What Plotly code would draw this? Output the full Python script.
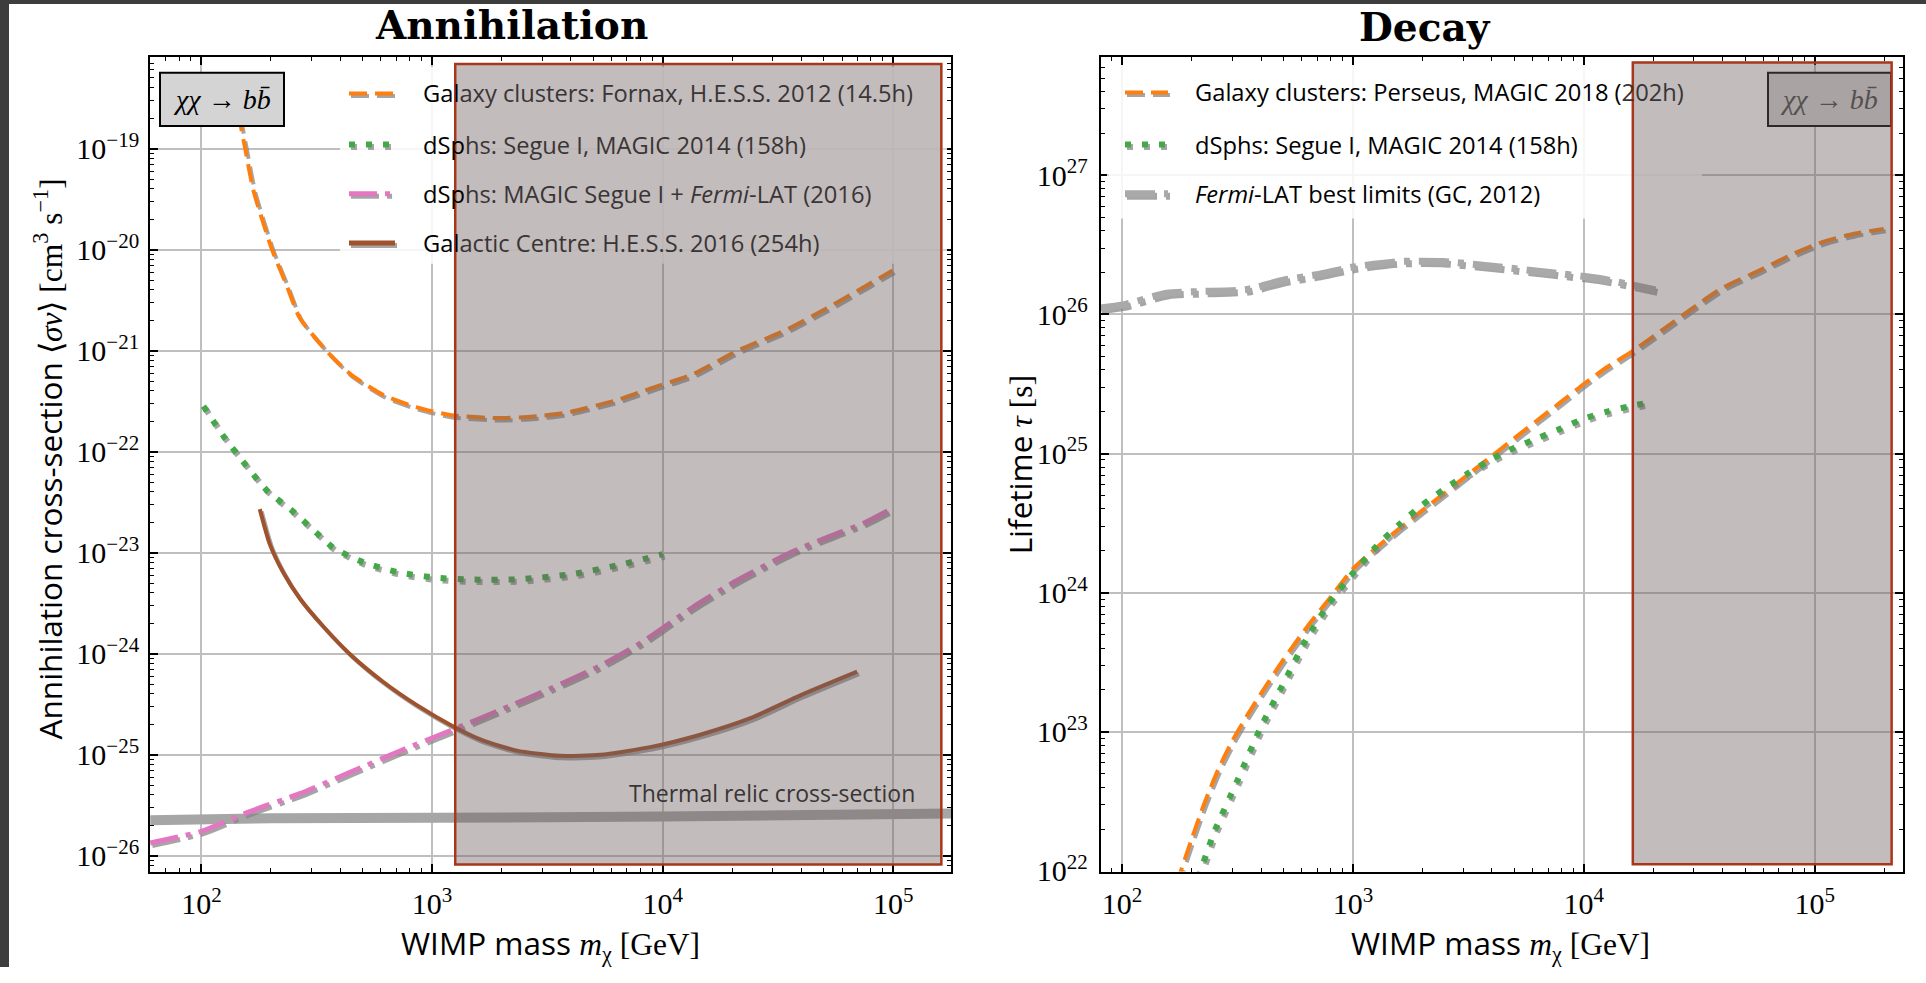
import plotly.graph_objects as go

W, H = 1926, 983

# ---------------- Annihilation: WIMP mass [GeV] vs <sigma v> [cm^3 s^-1] ----------------
fornax_mass = [144.5, 154.5, 168, 202, 234, 267, 349, 441, 615, 859, 1197, 1910, 2754,
               3837, 6324, 8831, 13610, 20990, 33420, 51520, 76910, 99300]
fornax_sv = [2.24e-19, 1.02e-19, 3.87e-20, 1.01e-20, 4.44e-21, 2.10e-21, 9.93e-22, 5.89e-22,
             3.63e-22, 2.75e-22, 2.31e-22, 2.15e-22, 2.23e-22, 2.44e-22, 3.24e-22, 4.21e-22,
             5.89e-22, 9.93e-22, 1.56e-21, 2.63e-21, 4.44e-21, 6.21e-21]

segue_ann_mass = [102, 124.5, 154.5, 192, 250, 327, 373, 504, 714, 1014, 1462, 2410, 4102,
                  6761, 8260, 10000]
segue_ann_sv = [2.83e-22, 1.43e-22, 7.53e-23, 4.15e-23, 2.55e-23, 1.46e-23, 1.12e-23, 8.02e-24,
                6.40e-24, 5.69e-24, 5.43e-24, 5.47e-24, 6.17e-24, 7.73e-24, 8.65e-24, 9.7e-24]

combined_mass = [60, 100, 162, 267, 441, 726, 1197, 1972, 3251, 5358, 8260, 13610, 20990,
                 35730, 53330, 74300, 99300]
combined_sv = [1.34e-26, 1.75e-26, 2.74e-26, 4.12e-26, 6.71e-26, 1.09e-25, 1.73e-25, 2.77e-25,
               4.51e-25, 7.60e-25, 1.33e-24, 2.92e-24, 5.31e-24, 1.00e-23, 1.46e-23, 1.96e-23,
               2.75e-23]

gc_mass = [179, 198, 226, 267, 337, 441, 615, 859, 1236, 1671, 2328, 3589, 5358, 8831, 14550,
           23990, 39540, 69660]
gc_sv = [2.70e-23, 1.21e-23, 6.40e-24, 3.52e-24, 1.87e-24, 9.89e-25, 5.25e-25, 3.10e-25,
         1.91e-25, 1.38e-25, 1.10e-25, 9.77e-26, 1.00e-25, 1.19e-25, 1.58e-25, 2.30e-25,
         3.88e-25, 6.65e-25]

thermal_mass = [60, 200, 1000, 10000, 180000]
thermal_sv = [2.25e-26, 2.35e-26, 2.38e-26, 2.45e-26, 2.62e-26]

# ---------------- Decay: WIMP mass [GeV] vs lifetime [s] ----------------
perseus_mass = [171.8, 199.5, 229.1, 263, 302, 346.7, 398, 501, 631, 794, 1000, 1259, 1585,
                1995, 2512, 3162, 3981, 5012, 6310, 7943, 10000, 12590, 16410, 22390, 31620,
                39810, 58340, 79430, 107900, 147900, 199100]
perseus_tau = [7.94e21, 1.66e22, 3.16e22, 5.50e22, 8.71e22, 1.29e23, 1.86e23, 3.31e23, 5.62e23,
               9.12e23, 1.48e24, 2.09e24, 2.88e24, 3.89e24, 5.25e24, 7.08e24, 9.55e24, 1.29e25,
               1.74e25, 2.34e25, 3.16e25, 4.17e25, 5.50e25, 7.94e25, 1.20e26, 1.55e26, 2.09e26,
               2.69e26, 3.31e26, 3.80e26, 4.12e26]

segue_dec_mass = [213.8, 251.2, 316.2, 398.1, 501.2, 631, 794.3, 1000, 1259, 1585, 1995, 2512,
                  3162, 3981, 5012, 6310, 7943, 10000, 12590, 15850, 19680]
segue_dec_tau = [8.91e21, 1.91e22, 4.47e22, 1.07e23, 2.24e23, 4.68e23, 8.51e23, 1.38e24,
                 2.14e24, 3.09e24, 4.27e24, 5.62e24, 7.24e24, 9.12e24, 1.10e25, 1.29e25,
                 1.51e25, 1.78e25, 2.00e25, 2.19e25, 2.34e25]

fermi_mass = [80, 101, 156, 217, 347, 499, 697, 1002, 1596, 2460, 4325, 7129, 11720, 20420]
fermi_tau = [1.11e26, 1.17e26, 1.42e26, 1.46e26, 1.51e26, 1.76e26, 1.93e26, 2.19e26, 2.40e26,
             2.40e26, 2.19e26, 2.00e26, 1.81e26, 1.50e26]

# Mass windows highlighted by the shaded rectangles
ann_window_mass = [1260, 1.615e5]
ann_window_sv = [8.2e-27, 6.87e-19]
dec_window_mass = [16300, 2.153e5]
dec_window_tau = [1.114e22, 6.46e27]

# ---------------- styling ----------------
ORANGE = "#ff7f0e"
GREEN = "#43a847"
PINK = "#e377c2"
BROWN = "#a0522d"
THERMAL = "#a6a6a6"
FERMI = "#a9a9a9"
SHADOW = "rgba(135,135,135,0.75)"
DIM_TEXT = "#3a3535"
SANS = "Open Sans"
SERIF = "Liberation Serif"
LEGEND_SIZE = 23.7
AXIS_TITLE_SIZE = 31.5

DASH = "18px,8px"
DOT = "6px,11px"
DASHDOT = "28px,8px,5px,8px"
DASHDOT_WIDE = "30px,9px,6px,9px"

# pixel geometry of the two panels
LX0, LX1 = 150, 951
RX0, RX1 = 1100.5, 1902.7
YT, YB = 58, 886
# pixels per decade on each axis (for shadow offsets)
L_XDEC, L_YDEC = 230.5, 102.7
R_XDEC, R_YDEC = 231.0, 141.5


def px(x):
    return x / W


def py(y):
    return 1 - y / H


fig = go.Figure()


def add_curve(xs, ys, color, width, dash, xa, ya, xdec, ydec, shadow=True):
    if shadow:
        fx = 10 ** (2.0 / xdec)
        fy = 10 ** (-2.5 / ydec)
        fig.add_trace(go.Scatter(
            x=[v * fx for v in xs], y=[v * fy for v in ys], mode="lines",
            line=dict(color=SHADOW, width=width, dash=dash, shape="spline", smoothing=0.6),
            xaxis=xa, yaxis=ya, showlegend=False, hoverinfo="skip"))
    fig.add_trace(go.Scatter(
        x=xs, y=ys, mode="lines",
        line=dict(color=color, width=width, dash=dash, shape="spline", smoothing=0.6),
        xaxis=xa, yaxis=ya, showlegend=False))


# left panel curves
add_curve(thermal_mass, thermal_sv, THERMAL, 10, "solid", "x", "y", L_XDEC, L_YDEC, shadow=False)
add_curve(fornax_mass, fornax_sv, ORANGE, 4, DASH, "x", "y", L_XDEC, L_YDEC)
add_curve(segue_ann_mass, segue_ann_sv, GREEN, 6, DOT, "x", "y", L_XDEC, L_YDEC)
add_curve(combined_mass, combined_sv, PINK, 5, DASHDOT, "x", "y", L_XDEC, L_YDEC)
add_curve(gc_mass, gc_sv, BROWN, 4, "solid", "x", "y", L_XDEC, L_YDEC)

# right panel curves
add_curve(fermi_mass, fermi_tau, FERMI, 7, DASHDOT_WIDE, "x2", "y2", R_XDEC, R_YDEC)
add_curve(perseus_mass, perseus_tau, ORANGE, 4, DASH, "x2", "y2", R_XDEC, R_YDEC)
add_curve(segue_dec_mass, segue_dec_tau, GREEN, 6, DOT, "x2", "y2", R_XDEC, R_YDEC)

axis_common = dict(
    type="log", showline=True, linecolor="black", linewidth=2, mirror="allticks",
    ticks="inside", ticklen=8, tickwidth=1.5, tickcolor="black",
    showgrid=True, gridcolor="#bfbfbf", gridwidth=1.5, zeroline=False,
    dtick=1, exponentformat="power",
    tickfont=dict(family=SERIF, size=24, color="black"),
    minor=dict(ticks="inside", ticklen=4, tickwidth=1, tickcolor="black", dtick="D1",
               showgrid=False),
)

fig.update_layout(
    width=W, height=H, autosize=False,
    margin=dict(l=0, r=0, t=0, b=0),
    paper_bgcolor="white", plot_bgcolor="white",
    showlegend=False,
    xaxis=dict(axis_common, domain=[px(LX0), px(LX1)], range=[1.777, 5.25], anchor="y",
               ticklabelstandoff=6),
    yaxis=dict(axis_common, domain=[py(YB), py(YT)], range=[-26.156, -18.094], anchor="x",
               ticklabelstandoff=4),
    xaxis2=dict(axis_common, domain=[px(RX0), px(RX1)], range=[1.907, 5.381], anchor="y2",
                ticklabelstandoff=6),
    yaxis2=dict(axis_common, domain=[py(YB), py(YT)], range=[21.995, 27.85], anchor="x2",
                ticklabelstandoff=6),
)

shapes = []
# dark frame around the page edges
shapes.append(dict(type="rect", xref="paper", yref="paper", x0=0, x1=px(9), y0=0, y1=1,
                   fillcolor="#3d3d3d", line=dict(width=0), layer="below"))
shapes.append(dict(type="rect", xref="paper", yref="paper", x0=0, x1=1, y0=py(4), y1=1,
                   fillcolor="#3d3d3d", line=dict(width=0), layer="below"))

# legend backgrounds
shapes.append(dict(type="rect", xref="paper", yref="paper", x0=px(340), x1=px(947),
                   y0=py(268), y1=py(68), fillcolor="rgba(255,255,255,0.85)",
                   line=dict(width=0), layer="above"))
shapes.append(dict(type="rect", xref="paper", yref="paper", x0=px(1107), x1=px(1702),
                   y0=py(222), y1=py(66), fillcolor="rgba(255,255,255,0.85)",
                   line=dict(width=0), layer="above"))

# legend entries: (text outside window, text inside window, color, width, dash)
left_legend = [
    ("Gal", "axy clusters: Fornax, H.E.S.S. 2012 (14.5h)", ORANGE, 4, DASH),
    ("dSp", "hs: Segue I, MAGIC 2014 (158h)", GREEN, 6, DOT),
    ("dSp", "hs: MAGIC Segue I + <i>Fermi</i>-LAT (2016)", PINK, 5, DASHDOT),
    ("Gal", "actic Centre: H.E.S.S. 2016 (254h)", BROWN, 5, "solid"),
]
right_legend = [
    ("Galaxy clusters: Perseus, MAGIC 2018 (", "202h)", ORANGE, 4, DASH),
    ("dSphs: Segue I, MAGIC 2014 (158h)", "", GREEN, 6, DOT),
    ("<i>Fermi</i>-LAT best limits (GC, 2012)", "", FERMI, 7, DASHDOT_WIDE),
]

annotations = []


def legend_block(entries, sx0, sx1, tx, rows):
    for (lead, rest, color, width, dash), yrow in zip(entries, rows):
        shapes.append(dict(type="line", xref="paper", yref="paper",
                           x0=px(sx0 + 2), x1=px(sx1 + 2), y0=py(yrow + 2.5), y1=py(yrow + 2.5),
                           line=dict(color=SHADOW, width=width, dash=dash), layer="above"))
        shapes.append(dict(type="line", xref="paper", yref="paper",
                           x0=px(sx0), x1=px(sx1), y0=py(yrow), y1=py(yrow),
                           line=dict(color=color, width=width, dash=dash), layer="above"))
        text = lead
        if rest:
            text += '<span style="color:%s">%s</span>' % (DIM_TEXT, rest)
        annotations.append(dict(xref="paper", yref="paper", x=px(tx), y=py(yrow),
                                xanchor="left", yanchor="middle", showarrow=False, text=text,
                                font=dict(family=SANS, size=LEGEND_SIZE, color="black")))


legend_block(left_legend, 349, 395, 421, [95, 147, 197, 247])
legend_block(right_legend, 1125, 1168, 1193, [94, 147, 197])

# process label boxes
shapes.append(dict(type="rect", xref="paper", yref="paper", x0=px(160), x1=px(284),
                   y0=py(128), y1=py(74), fillcolor="#d4d4d4",
                   line=dict(color="black", width=2), layer="above"))
shapes.append(dict(type="rect", xref="paper", yref="paper", x0=px(1768), x1=px(1891),
                   y0=py(128), y1=py(74), fillcolor="#d4d4d4",
                   line=dict(color="black", width=2), layer="above"))

# shaded mass windows
shapes.append(dict(type="rect", xref="x", yref="y",
                   x0=ann_window_mass[0], x1=ann_window_mass[1],
                   y0=ann_window_sv[0], y1=ann_window_sv[1],
                   fillcolor="rgba(110,95,95,0.42)", line=dict(color="#a8361a", width=2.5),
                   layer="above"))
shapes.append(dict(type="rect", xref="x2", yref="y2",
                   x0=dec_window_mass[0], x1=dec_window_mass[1],
                   y0=dec_window_tau[0], y1=dec_window_tau[1],
                   fillcolor="rgba(110,95,95,0.42)", line=dict(color="#a8361a", width=2.5),
                   layer="above"))

label = "<i>χχ</i> → <i>b</i><i>b̄</i>"
annotations.append(dict(xref="paper", yref="paper", x=px(222), y=py(101), text=label,
                        showarrow=False, xanchor="center", yanchor="middle",
                        font=dict(family=SERIF, size=28, color="black")))
annotations.append(dict(xref="paper", yref="paper", x=px(1829), y=py(101), text=label,
                        showarrow=False, xanchor="center", yanchor="middle",
                        font=dict(family=SERIF, size=28, color="#555050")))

annotations.append(dict(xref="paper", yref="paper", x=px(917), y=py(806),
                        text="Thermal relic cross-section", showarrow=False,
                        xanchor="right", yanchor="middle",
                        font=dict(family=SANS, size=23, color=DIM_TEXT)))

# panel titles
annotations.append(dict(xref="paper", yref="paper", x=px(511), y=py(25),
                        text="<b>Annihilation</b>", showarrow=False,
                        xanchor="center", yanchor="middle",
                        font=dict(family="DejaVu Serif", size=39, color="black")))
annotations.append(dict(xref="paper", yref="paper", x=px(1425), y=py(27), text="<b>Decay</b>",
                        showarrow=False, xanchor="center", yanchor="middle",
                        font=dict(family="DejaVu Serif", size=39, color="black")))

# axis titles
serif_span = '<span style="font-family:Liberation Serif">%s</span>'
x_title = "WIMP mass " + serif_span % "<i>m</i><sub>χ</sub> [GeV]"
annotations.append(dict(xref="paper", yref="paper", x=px(550), y=py(960), text=x_title,
                        showarrow=False, xanchor="center", yanchor="middle",
                        font=dict(family=SANS, size=AXIS_TITLE_SIZE, color="black")))
annotations.append(dict(xref="paper", yref="paper", x=px(1500), y=py(960), text=x_title,
                        showarrow=False, xanchor="center", yanchor="middle",
                        font=dict(family=SANS, size=AXIS_TITLE_SIZE, color="black")))
y_title_left = ("Annihilation cross-section "
                + serif_span % "⟨<i>σv</i>⟩ [cm<sup>3</sup> s<sup>−1</sup>]")
annotations.append(dict(xref="paper", yref="paper", x=px(49), y=py(467), text=y_title_left,
                        showarrow=False, xanchor="center", yanchor="middle", textangle=-90,
                        font=dict(family=SANS, size=AXIS_TITLE_SIZE, color="black")))
y_title_right = "Lifetime " + serif_span % "<i>τ</i> [s]"
annotations.append(dict(xref="paper", yref="paper", x=px(1019), y=py(472), text=y_title_right,
                        showarrow=False, xanchor="center", yanchor="middle", textangle=-90,
                        font=dict(family=SANS, size=AXIS_TITLE_SIZE, color="black")))

fig.update_layout(shapes=shapes, annotations=annotations)

fig.write_html("out.html")
